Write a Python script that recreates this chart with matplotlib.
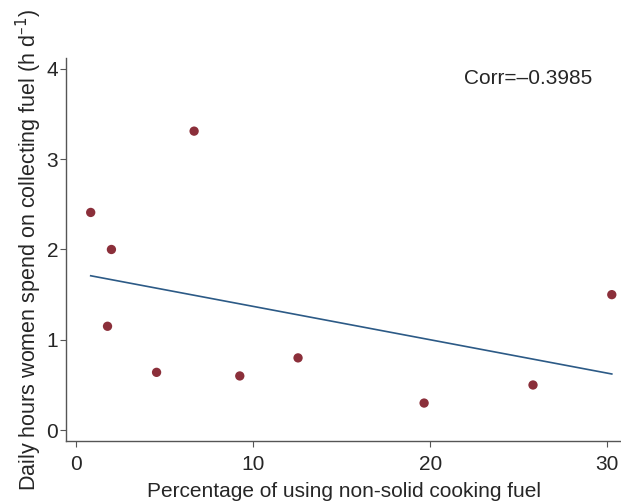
import numpy as np
import matplotlib
matplotlib.use("Agg")
import matplotlib.pyplot as plt

plt.rcParams["font.family"] = ["Liberation Sans", "DejaVu Sans"]

# share of households using non-solid cooking fuel (%) vs daily hours
pct_nonsolid = [0.82, 1.99, 1.77, 4.54, 6.66, 9.24, 12.53, 19.65, 25.8, 30.25]
hours_fuel = [2.41, 2.0, 1.15, 0.64, 3.31, 0.6, 0.8, 0.3, 0.5, 1.5]
corr_label = "Corr=\u20130.3985"
x_ticks = [0, 10, 20, 30]
y_ticks = [0, 1, 2, 3, 4]

text_col = "#262626"
spine_col = "#555555"

fig = plt.figure(figsize=(6.21, 5.04), dpi=100)
ax = fig.add_axes([0.107, 0.125, 0.893, 0.76])

# least squares line over the observed range
slope, icpt = np.polyfit(pct_nonsolid, hours_fuel, 1)
xs = np.array([min(pct_nonsolid), max(pct_nonsolid)])
ax.plot(xs, slope * xs + icpt, color="#2c5a86", lw=1.2, zorder=2)

ax.scatter(pct_nonsolid, hours_fuel, s=45, color="#8b2f3a", edgecolors="none", zorder=3)

ax.set_xlim(-0.55, 30.77)
ax.set_ylim(-0.12, 4.12)
ax.set_xticks(x_ticks)
ax.set_yticks(y_ticks)

for side in ["top", "right"]:
    ax.spines[side].set_visible(False)
for side in ["left", "bottom"]:
    ax.spines[side].set_color(spine_col)
    ax.spines[side].set_linewidth(1.0)

ax.tick_params(axis="both", direction="out", length=4, width=0.8, color=spine_col,
               labelsize=15, labelcolor=text_col)
ax.tick_params(axis="x", pad=6)
ax.tick_params(axis="y", pad=2)

ax.set_xlabel("Percentage of using non-solid cooking fuel", fontsize=15, color=text_col, labelpad=6)
ax.set_ylabel("Daily hours women spend on collecting fuel (h d$^{\\mathregular{\u2013}1}$)",
              fontsize=15.5, color=text_col, labelpad=2)

ax.text(21.9, 3.89, corr_label, fontsize=15, color=text_col, va="center", ha="left")

fig.savefig("out.png", dpi=100)
